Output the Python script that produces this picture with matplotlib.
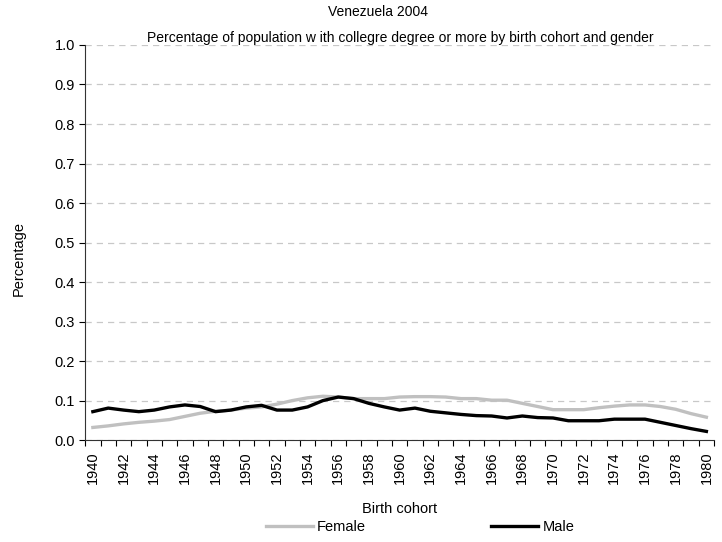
import matplotlib
matplotlib.use("Agg")
import matplotlib.pyplot as plt
from matplotlib.ticker import MultipleLocator

plt.rcParams['font.family'] = ['Liberation Sans', 'DejaVu Sans']

# Birth cohorts and shares with college degree or more
years = list(range(1940, 1981))
female = [0.032, 0.036, 0.041, 0.045, 0.048, 0.052, 0.060, 0.068, 0.073, 0.076,
          0.081, 0.084, 0.091, 0.100, 0.107, 0.111, 0.109, 0.105, 0.105, 0.105,
          0.109, 0.110, 0.110, 0.109, 0.105, 0.105, 0.101, 0.101, 0.093, 0.085,
          0.077, 0.077, 0.077, 0.082, 0.086, 0.089, 0.089, 0.085, 0.078, 0.067,
          0.058]
male = [0.072, 0.081, 0.076, 0.072, 0.076, 0.084, 0.089, 0.085, 0.072, 0.076,
        0.084, 0.088, 0.076, 0.076, 0.084, 0.100, 0.109, 0.105, 0.093, 0.084,
        0.076, 0.081, 0.073, 0.069, 0.065, 0.062, 0.061, 0.056, 0.061, 0.057,
        0.056, 0.049, 0.049, 0.049, 0.053, 0.053, 0.053, 0.045, 0.037, 0.029,
        0.022]

fig = plt.figure(figsize=(7.22, 5.42), dpi=100)
ax = fig.add_axes([0.118, 0.188, 0.871, 0.729])

ax.plot(years, female, color='#c0c0c0', linewidth=2.4, label='Female')
ax.plot(years, male, color='black', linewidth=2.4, label='Male')

ax.set_xlim(1939.5, 1980.5)
ax.set_ylim(0, 1.0)

# category style ticks: marks between years, labels every second year
ax.set_xticks(years[::2])
ax.set_xticklabels([str(y) for y in years[::2]], rotation=90, fontsize=10.5)
ax.xaxis.set_minor_locator(MultipleLocator(1, offset=0.5))
ax.tick_params(axis='x', which='major', length=0, pad=8)
ax.tick_params(axis='x', which='minor', length=4, direction='out', width=0.8)

ax.yaxis.set_major_locator(MultipleLocator(0.1))
ax.yaxis.set_major_formatter(plt.FormatStrFormatter('%.1f'))
ax.tick_params(axis='y', length=4, direction='out', width=0.8, labelsize=10.5)

ax.grid(axis='y', color='#c8c8c8', linestyle=(0, (5, 4)), linewidth=0.9)
ax.set_axisbelow(True)

for side in ['top', 'right']:
    ax.spines[side].set_visible(False)
for side in ['left', 'bottom']:
    ax.spines[side].set_linewidth(0.8)
    ax.spines[side].set_color('#333333')

ax.set_ylabel('Percentage', fontsize=10.5)
ax.yaxis.set_label_coords(-0.095, 0.46)
ax.set_xlabel('Birth cohort', fontsize=10.5, labelpad=13)

fig.text(0.524, 0.978, 'Venezuela 2004', ha='center', va='center', fontsize=10)
fig.text(0.555, 0.93, 'Percentage of population w ith collegre degree or more by birth cohort and gender',
         ha='center', va='center', fontsize=10)

fig.legend(loc='center', bbox_to_anchor=(0.582, 0.028), ncol=2, frameon=False,
           fontsize=10.5, handlelength=3.2, columnspacing=8.6, handletextpad=0.3)

fig.savefig('out.png', dpi=100)
